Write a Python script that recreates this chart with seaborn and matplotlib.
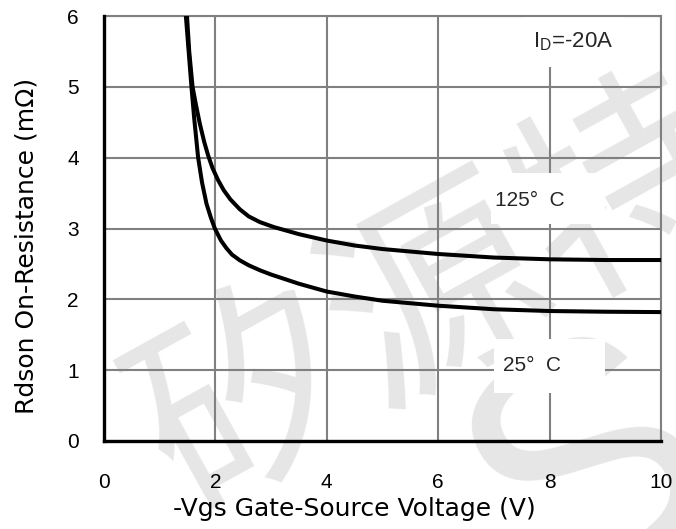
import matplotlib
matplotlib.use("Agg")
import matplotlib.pyplot as plt
from matplotlib.patches import Rectangle
import seaborn as sns
import pandas as pd

# ---- data ----
vgs_125 = [1.49, 1.53, 1.59, 1.65, 1.72, 1.80, 1.87, 1.95, 2.05, 2.15, 2.27, 2.44, 2.60, 2.80, 3.05, 3.50, 4.00, 4.50, 5.00, 6.00, 7.00, 8.00, 9.00, 10.00]
rds_125 = [6.00, 5.50, 5.00, 4.75, 4.48, 4.22, 4.03, 3.85, 3.68, 3.54, 3.41, 3.27, 3.17, 3.09, 3.02, 2.92, 2.83, 2.76, 2.71, 2.64, 2.59, 2.565, 2.555, 2.555]
vgs_25 = [1.47, 1.52, 1.57, 1.62, 1.69, 1.76, 1.84, 1.92, 1.99, 2.10, 2.20, 2.30, 2.44, 2.60, 2.80, 3.00, 3.50, 4.00, 4.50, 5.00, 6.00, 7.00, 8.00, 9.00, 10.00]
rds_25 = [6.00, 5.50, 5.00, 4.55, 4.00, 3.65, 3.35, 3.15, 3.00, 2.83, 2.72, 2.63, 2.55, 2.48, 2.41, 2.35, 2.22, 2.11, 2.04, 1.98, 1.91, 1.86, 1.835, 1.825, 1.82]
x_ticks = [0, 2, 4, 6, 8, 10]
y_ticks = [0, 1, 2, 3, 4, 5, 6]
x_label = "-Vgs Gate-Source Voltage (V)"
y_label = "Rdson On-Resistance (mΩ)"
label_125 = "125°  C"
label_25 = "25°  C"
label_id = r"I$_\mathrm{D}$=-20A"
watermark = "矽源特"

# annotation placement (text centre, and white backing box: x0, x1, y0, y1)
pos_id, box_id = (8.42, 5.64), (7.55, 9.30, 5.28, 5.985)
pos_125, box_125 = (7.65, 3.39), (6.95, 8.99, 3.06, 3.79)
pos_25, box_25 = (7.69, 1.06), (7.00, 8.99, 0.68, 1.44)

df = pd.concat([
    pd.DataFrame({"Vgs": vgs_125, "Rds": rds_125, "T": "125"}),
    pd.DataFrame({"Vgs": vgs_25, "Rds": rds_25, "T": "25"}),
])

sns.set_theme(style="white")
plt.rcParams["font.family"] = ["Liberation Sans", "DejaVu Sans"]
plt.rcParams["mathtext.fontset"] = "custom"
plt.rcParams["mathtext.rm"] = "Liberation Sans"
plt.rcParams["mathtext.it"] = "Liberation Sans"

fig = plt.figure(figsize=(6.76, 5.29), dpi=100)
fig.patch.set_facecolor("white")
ax = fig.add_axes([104 / 676, 1 - 441 / 529, 557 / 676, 425 / 529])
ax.set_facecolor("none")
ax.set_zorder(1)

# faint watermark behind everything
fig.text(0.651, 0.433, watermark, rotation=29, fontsize=156, color="#e6e6e6",
         ha="center", va="center", family=["Noto Sans CJK SC"], zorder=0)
fig.text(0.88, 0.10, "S", rotation=30, fontsize=240, color="#e6e6e6",
         ha="center", va="center", zorder=0)

sns.lineplot(data=df, x="Vgs", y="Rds", units="T", estimator=None, sort=False,
             color="black", linewidth=2.9, ax=ax, zorder=3)

ax.set_xlim(0, 10)
ax.set_ylim(0, 6)
ax.set_xticks(x_ticks)
ax.set_yticks(y_ticks)
ax.set_xticklabels([str(v) for v in x_ticks])
ax.set_yticklabels([str(v) for v in y_ticks])
ax.grid(True, color="#808080", linewidth=1.5)
ax.set_axisbelow(True)
ax.tick_params(axis="both", length=0, labelsize=15, colors="black")
ax.tick_params(axis="x", pad=23)
ax.tick_params(axis="y", pad=18)

for s in ["top", "right"]:
    ax.spines[s].set_color("#808080")
    ax.spines[s].set_linewidth(1.5)
for s in ["left", "bottom"]:
    ax.spines[s].set_color("black")
    ax.spines[s].set_linewidth(2.4)
    ax.spines[s].set_zorder(4)

ax.set_xlabel(x_label, fontsize=18, color="black", family=["DejaVu Sans"])
ax.set_ylabel(y_label, fontsize=18, color="black", family=["DejaVu Sans"])
ax.xaxis.set_label_coords(0.449, -0.132)
ax.yaxis.set_label_coords(-0.117, 0.46)

for (x0, x1, y0, y1) in [box_id, box_125, box_25]:
    ax.add_patch(Rectangle((x0, y0), x1 - x0, y1 - y0, facecolor="white",
                           edgecolor="none", zorder=1.5))
ax.text(*pos_id, label_id, fontsize=16, ha="center", va="center", zorder=2)
ax.text(*pos_125, label_125, fontsize=15, ha="center", va="center", zorder=2)
ax.text(*pos_25, label_25, fontsize=15, ha="center", va="center", zorder=2)

if ax.get_legend() is not None:
    ax.get_legend().remove()

fig.savefig("out.png", dpi=100)
